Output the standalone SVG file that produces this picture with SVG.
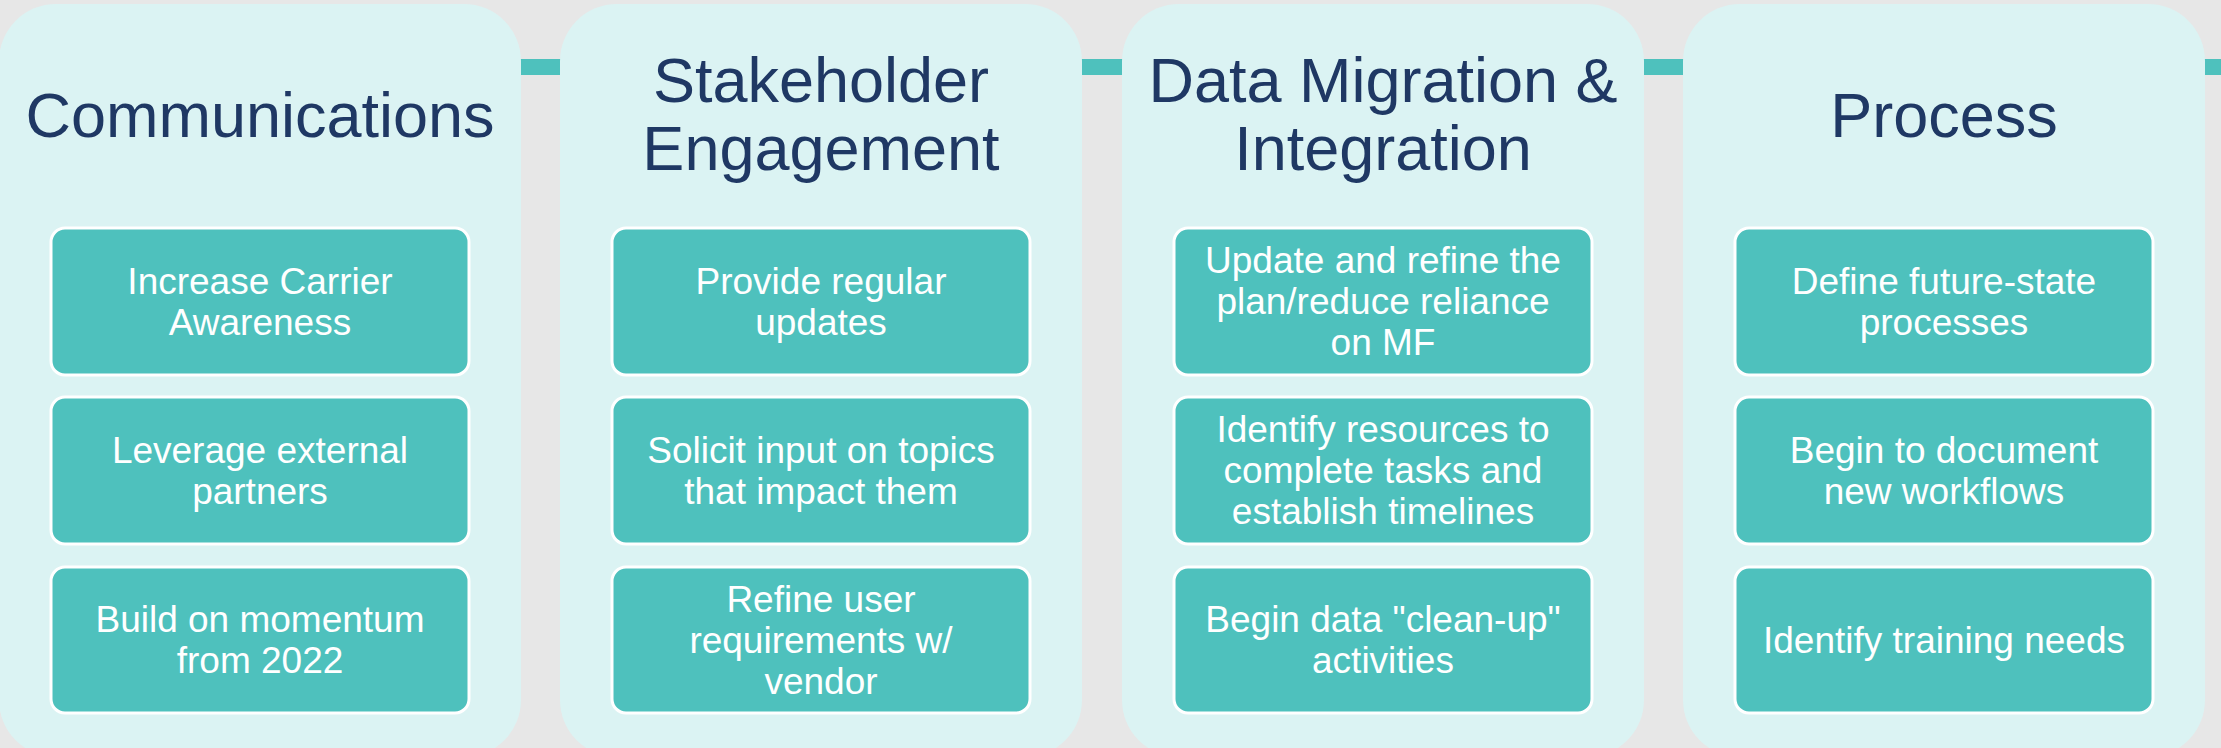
<svg xmlns="http://www.w3.org/2000/svg" width="2221" height="748" viewBox="0 0 2221 748">
<style>
.bg{fill:#e7e7e7}
.panel{fill:#dbf3f3}
.bar{fill:#4ec1bd}
.box{fill:#4ec1bd;stroke:#ffffff;stroke-width:3}
.title{font-family:"Liberation Sans",Arial,sans-serif;font-size:63px;fill:#1f3864;text-anchor:middle}
.item{font-family:"Liberation Sans",Arial,sans-serif;font-size:37px;fill:#ffffff;text-anchor:middle}
</style>
<rect class="bg" x="0" y="0" width="2221" height="748"/>
<g id="connectors">
<rect class="bar" x="519" y="59" width="43" height="16"/>
<rect class="bar" x="1080" y="59" width="44" height="16"/>
<rect class="bar" x="1642" y="59" width="43" height="16"/>
<rect class="bar" x="2203" y="59" width="18" height="16"/>
</g>
<g id="panel-communications">
<rect class="panel" x="-1" y="4" width="522" height="753" rx="57"/>
<text class="title" x="260" y="137">Communications</text>
<g id="c1"><rect class="box" x="51" y="228" width="418" height="147" rx="14"/>
<text class="item" x="260" y="294">Increase Carrier</text><text class="item" x="260" y="335">Awareness</text></g>
<g id="c2"><rect class="box" x="51" y="397" width="418" height="147" rx="14"/>
<text class="item" x="260" y="463">Leverage external</text><text class="item" x="260" y="504">partners</text></g>
<g id="c3"><rect class="box" x="51" y="567" width="418" height="146" rx="14"/>
<text class="item" x="260" y="632">Build on momentum</text><text class="item" x="260" y="673">from 2022</text></g>
</g>
<g id="panel-stakeholder">
<rect class="panel" x="560" y="4" width="522" height="753" rx="57"/>
<text class="title" x="821" y="102">Stakeholder</text>
<text class="title" x="821" y="170">Engagement</text>
<g id="s1"><rect class="box" x="612" y="228" width="418" height="147" rx="14"/>
<text class="item" x="821" y="294">Provide regular</text><text class="item" x="821" y="335">updates</text></g>
<g id="s2"><rect class="box" x="612" y="397" width="418" height="147" rx="14"/>
<text class="item" x="821" y="463">Solicit input on topics</text><text class="item" x="821" y="504">that impact them</text></g>
<g id="s3"><rect class="box" x="612" y="567" width="418" height="146" rx="14"/>
<text class="item" x="821" y="612">Refine user</text><text class="item" x="821" y="653">requirements w/</text><text class="item" x="821" y="694">vendor</text></g>
</g>
<g id="panel-data">
<rect class="panel" x="1122" y="4" width="522" height="753" rx="57"/>
<text class="title" x="1383" y="102">Data Migration &amp;</text>
<text class="title" x="1383" y="170">Integration</text>
<g id="d1"><rect class="box" x="1174" y="228" width="418" height="147" rx="14"/>
<text class="item" x="1383" y="273">Update and refine the</text><text class="item" x="1383" y="314">plan/reduce reliance</text><text class="item" x="1383" y="355">on MF</text></g>
<g id="d2"><rect class="box" x="1174" y="397" width="418" height="147" rx="14"/>
<text class="item" x="1383" y="442">Identify resources to</text><text class="item" x="1383" y="483">complete tasks and</text><text class="item" x="1383" y="524">establish timelines</text></g>
<g id="d3"><rect class="box" x="1174" y="567" width="418" height="146" rx="14"/>
<text class="item" x="1383" y="632">Begin data "clean-up"</text><text class="item" x="1383" y="673">activities</text></g>
</g>
<g id="panel-process">
<rect class="panel" x="1683" y="4" width="522" height="753" rx="57"/>
<text class="title" x="1944" y="137">Process</text>
<g id="p1"><rect class="box" x="1735" y="228" width="418" height="147" rx="14"/>
<text class="item" x="1944" y="294">Define future-state</text><text class="item" x="1944" y="335">processes</text></g>
<g id="p2"><rect class="box" x="1735" y="397" width="418" height="147" rx="14"/>
<text class="item" x="1944" y="463">Begin to document</text><text class="item" x="1944" y="504">new workflows</text></g>
<g id="p3"><rect class="box" x="1735" y="567" width="418" height="146" rx="14"/>
<text class="item" x="1944" y="653">Identify training needs</text></g>
</g>
</svg>
